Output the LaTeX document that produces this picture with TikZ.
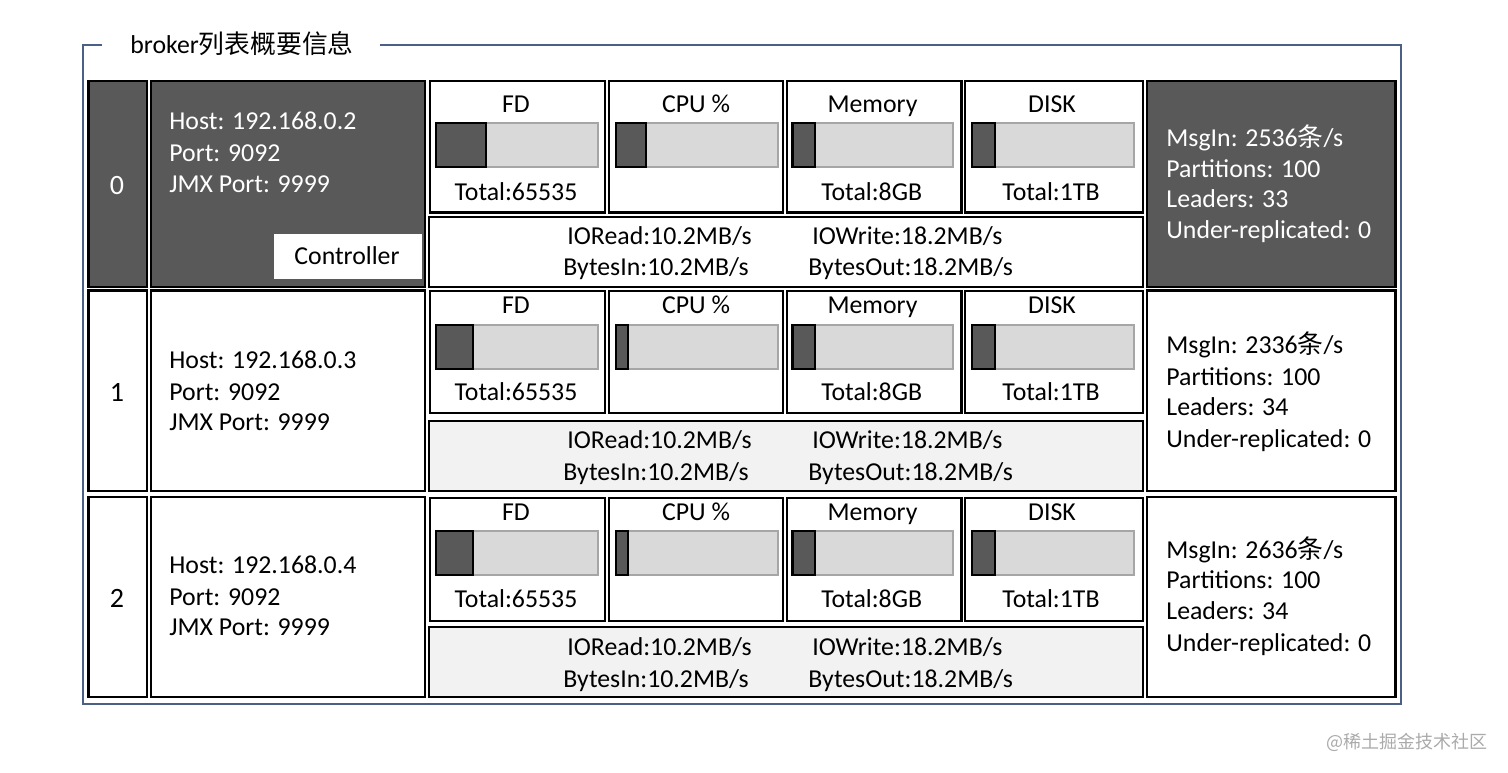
\documentclass[tikz,border=0pt]{standalone}
\usepackage{fontspec}
\setmainfont{Carlito}
\newfontfamily\cjk{Noto Sans CJK SC}
\definecolor{dk}{HTML}{595959}
\definecolor{barbg}{HTML}{D9D9D9}
\definecolor{barln}{HTML}{A6A6A6}
\definecolor{iobg}{HTML}{F2F2F2}
\definecolor{frm}{HTML}{4A6085}
\definecolor{wm}{HTML}{AAAAAA}
\newcommand{\mybar}[5]{%
  \filldraw[fill=barbg, draw=barln, line width=1pt] (#1,#4) rectangle (#2,#5);
  \filldraw[fill=dk, draw=black, line width=1.1pt] (#1,#4) rectangle (#3,#5);}
\newcommand{\metrics}[9]{%
  \draw[box] (430,#2) rectangle (605,#3);
  \draw[box] (609,#2) rectangle (783,#3);
  \draw[box] (787,#2) rectangle (961.5,#3);
  \draw[box] (965,#2) rectangle (1143,#3);
  \node[tc] (#1fd) at (516,#4) {FD};
  \node[tc] (#1cpu) at (696,#4) {CPU \%};
  \node[tc] (#1mem) at (872.5,#4) {Memory};
  \node[tc] (#1disk) at (1052,#4) {DISK};
  \mybar{436}{597.5}{#8}{#5}{#6}
  \mybar{616}{777.5}{#9}{#5}{#6}
  \mybar{792.5}{953.3}{815.3}{#5}{#6}
  \mybar{972.3}{1133.5}{995.3}{#5}{#6}
  \node[tc] (#1fdt) at (516,#7) {Total:65535};
  \node[tc] (#1memt) at (871.7,#7) {Total:8GB};
  \node[tc] (#1diskt) at (1051,#7) {Total:1TB};}
\newcommand{\iotext}[3]{%
  \node[tw] (#1ior) at (567,#2) {IORead:10.2MB/s};
  \node[tw] (#1iow) at (812,#2) {IOWrite:18.2MB/s};
  \node[tw] (#1bin) at (563,#3) {BytesIn:10.2MB/s};
  \node[tw] (#1bout) at (808,#3) {BytesOut:18.2MB/s};}
\begin{document}
\begin{tikzpicture}[x=0.5pt,y=-0.5pt,
  box/.style={draw=black, line width=1.1pt},
  txt/.style={inner sep=0pt, text height=8.3pt, text depth=0pt, font=\fontsize{12.9}{15}\selectfont},
  tc/.style={txt, anchor=center},
  tw/.style={txt, anchor=west},
  idtxt/.style={inner sep=0pt, text height=9.2pt, text depth=0pt, font=\fontsize{14}{16}\selectfont, anchor=center},
  frame/.style={draw=frm, line width=1pt}]
\useasboundingbox (0,0) rectangle (1508,772);
% outer frame
\draw[frame] (102,45) -- (83,45) -- (83,704) -- (1401,704) -- (1401,45) -- (380,45);
\node[tw, text height=8.8pt] (title) at (130,45) {broker{\cjk 列表概要信息}};
% ---------- row 0 ----------
\filldraw[box, fill=dk] (88.5,81) rectangle (146.8,287);
\filldraw[box, fill=dk] (151.3,81) rectangle (425.3,287);
\node[idtxt, text=white] (id0) at (117,185) {0};
\node[tw, text=white] (h0) at (169,121) {Host: 192.168.0.2};
\node[tw, text=white] (p0) at (169,153) {Port: 9092};
\node[tw, text=white] (j0) at (169,184) {JMX Port: 9999};
\fill[white] (274,234) rectangle (422,279.3);
\node[tc] (ctrl) at (347,256.5) {Controller};
\metrics{r0}{81}{212.5}{104.3}{123}{167.3}{191.7}{485.7}{645.7}
\draw[box] (429,217) rectangle (1143,287);
\iotext{r0}{236.5}{266.7}
\filldraw[box, fill=dk] (1146.7,81) rectangle (1395.5,287);
\node[tw, text=white] (m0) at (1166,138) {MsgIn: 2536{\cjk 条}/s};
\node[tw, text=white] (pa0) at (1166,169.3) {Partitions: 100};
\node[tw, text=white] (l0) at (1166,199.3) {Leaders: 33};
\node[tw, text=white] (u0) at (1166,230.5) {Under-replicated: 0};
% ---------- row 1 ----------
\draw[box] (88.5,290.5) rectangle (146.8,491);
\draw[box] (151.3,290.5) rectangle (425.3,491);
\node[idtxt] (id1) at (117,392) {1};
\node[tw] (h1) at (169,360) {Host: 192.168.0.3};
\node[tw] (p1) at (169,392) {Port: 9092};
\node[tw] (j1) at (169,422) {JMX Port: 9999};
\metrics{r1}{291}{412.7}{305.5}{325}{369.3}{391.7}{473.3}{627.7}
\filldraw[box, fill=iobg] (429,421) rectangle (1143,490.7);
\iotext{r1}{440}{472}
\draw[box] (1146.7,290.5) rectangle (1395.5,491);
\node[tw] (m1) at (1166,345) {MsgIn: 2336{\cjk 条}/s};
\node[tw] (pa1) at (1166,377) {Partitions: 100};
\node[tw] (l1) at (1166,407) {Leaders: 34};
\node[tw] (u1) at (1166,439) {Under-replicated: 0};
% ---------- row 2 ----------
\draw[box] (88.5,496.7) rectangle (146.8,696.7);
\draw[box] (151.3,496.7) rectangle (425.3,696.7);
\node[idtxt] (id2) at (117,598) {2};
\node[tw] (h2) at (169,565) {Host: 192.168.0.4};
\node[tw] (p2) at (169,597) {Port: 9092};
\node[tw] (j2) at (169,627) {JMX Port: 9999};
\metrics{r2}{498}{621}{512}{531}{575}{599}{473.3}{627.7}
\filldraw[box, fill=iobg] (429,627) rectangle (1143,696.7);
\iotext{r2}{647}{679}
\draw[box] (1146.7,496.7) rectangle (1395.5,696.7);
\node[tw] (m2) at (1166,550) {MsgIn: 2636{\cjk 条}/s};
\node[tw] (pa2) at (1166,580.5) {Partitions: 100};
\node[tw] (l2) at (1166,611.5) {Leaders: 34};
\node[tw] (u2) at (1166,643) {Under-replicated: 0};
% watermark
\node[inner sep=0pt, anchor=east, text=wm, font=\cjk\fontsize{9}{10}\selectfont] (wmark) at (1488,742) {@稀土掘金技术社区};
\end{tikzpicture}
\end{document}
